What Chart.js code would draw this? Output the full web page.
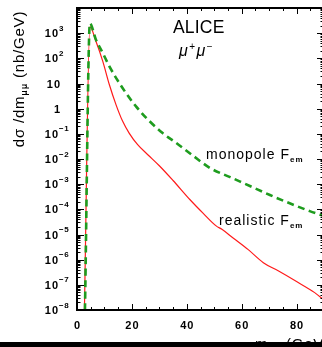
<!DOCTYPE html>
<html>
<head>
<meta charset="utf-8">
<script src="https://cdn.jsdelivr.net/npm/chart.js@4/dist/chart.umd.min.js"></script>
<style>
  html, body { margin: 0; padding: 0; background: #fff; overflow: hidden; }
  #wrap { position: relative; width: 330px; height: 347px; }
</style>
</head>
<body>
<div id="wrap"><canvas id="c"></canvas></div>
<script>
// Dimuon invariant mass (GeV) and cross section dσ/dm (nb/GeV)
const realisticMass = [2.7, 4.7, 6.9, 9.4, 11.8, 14.2, 16.6, 19.0, 22.1, 25.8, 30.0, 35.0, 41.2, 46.0, 50.7, 52.8, 57.0, 62.4, 67.9, 73.3, 80.0, 86.6, 90.0];
const realisticXsec = [1e-8, 1820, 479, 76, 8.9, 1.45, 0.32, 0.107, 0.037, 0.0148, 5.4e-3, 1.4e-3, 2.4e-4, 6.9e-5, 2.2e-5, 1.6e-5, 7.1e-6, 2.5e-6, 7.6e-7, 3.6e-7, 1.35e-7, 4.9e-8, 2.5e-8];

const monopoleMass = [2.9, 4.7, 6.9, 9.4, 11.8, 16.6, 21.5, 26.4, 31.2, 36.1, 42.3, 48.6, 55.8, 63.0, 70.3, 77.5, 84.8, 90.0];
const monopoleXsec = [1e-8, 2450, 550, 162, 48, 6.6, 1.23, 0.32, 0.107, 0.044, 0.0135, 4.3e-3, 1.9e-3, 8.5e-4, 3.7e-4, 1.74e-4, 8.5e-5, 5.4e-5];

// Axis ticks
const massTickValues = [0, 20, 40, 60, 80];
const massTickLabels = ['0', '20', '40', '60', '80'];
const xsecTickValues = [1e3, 1e2, 1e1, 1, 1e-1, 1e-2, 1e-3, 1e-4, 1e-5, 1e-6, 1e-7, 1e-8];
const xsecTickLabels = ['10^3', '10^2', '10', '1', '10^−1', '10^−2', '10^−3', '10^−4', '10^−5', '10^−6', '10^−7', '10^−8'];

const FONT = '"Liberation Sans", Arial, "Helvetica", sans-serif';

function toPoints(xs, ys) { return xs.map((x, i) => ({ x: x, y: ys[i] })); }

// Draws a sequence of text runs; each run: [text, font, dy]
function drawRuns(ctx, runs, x, y, spacing) {
  let cx = x;
  for (const [t, f, dy] of runs) {
    ctx.font = f;
    ctx.letterSpacing = (spacing || 0) + 'px';
    ctx.fillText(t, cx, y + (dy || 0));
    cx += ctx.measureText(t).width;
  }
  ctx.letterSpacing = '0px';
  return cx - x;
}
function runsWidth(ctx, runs, spacing) {
  let w = 0;
  for (const [t, f] of runs) {
    ctx.font = f;
    ctx.letterSpacing = (spacing || 0) + 'px';
    w += ctx.measureText(t).width;
  }
  ctx.letterSpacing = '0px';
  return w;
}

const framePlugin = {
  id: 'frame',
  afterDraw(chart) {
    const { ctx, chartArea: a, scales: { x, y } } = chart;
    ctx.save();
    ctx.fillStyle = '#000';
    ctx.strokeStyle = '#000';

    // frame
    ctx.lineWidth = 2;
    ctx.strokeRect(a.left, a.top, a.right - a.left, a.bottom - a.top);

    // inward ticks on the mass axis (bottom and top)
    ctx.lineWidth = 1;
    ctx.beginPath();
    for (let v = 0; v <= 90; v += 5) {
      const px = Math.round(x.getPixelForValue(v)) + 0.5;
      const len = v % 20 === 0 ? 6 : 3;
      ctx.moveTo(px, a.bottom); ctx.lineTo(px, a.bottom - len);
      ctx.moveTo(px, a.top); ctx.lineTo(px, a.top + len);
    }
    // inward decade and sub-decade ticks on the cross-section axis (left and right)
    for (let e = -8; e < 4; e++) {
      for (let m = 1; m < 10; m++) {
        const py = Math.round(y.getPixelForValue(m * Math.pow(10, e))) + 0.5;
        const len = m === 1 ? 7 : 3.5;
        ctx.moveTo(a.left, py); ctx.lineTo(a.left + len, py);
        ctx.moveTo(a.right, py); ctx.lineTo(a.right - len, py);
      }
    }
    ctx.stroke();

    // mass tick labels
    ctx.textBaseline = 'alphabetic';
    ctx.font = 'bold 11px ' + FONT;
    ctx.letterSpacing = '1px';
    ctx.textAlign = 'center';
    massTickValues.forEach((v, i) => {
      ctx.fillText(massTickLabels[i], x.getPixelForValue(v) + 0.5, 329);
    });
    ctx.letterSpacing = '0px';

    // cross-section tick labels, powers of ten with raised exponents
    ctx.textAlign = 'left';
    xsecTickValues.forEach((v, i) => {
      const py = y.getPixelForValue(v);
      const [base, exp] = xsecTickLabels[i].split('^');
      const runs = [[base, 'bold 11px ' + FONT, 0]];
      const bw = runsWidth(ctx, runs, 1);
      if (exp) {
        drawRuns(ctx, runs, 59 - bw, py + 4, 1);
        drawRuns(ctx, [[exp, 'bold 8px ' + FONT, 0]], 59, py - 2.5, 0.5);
      } else {
        drawRuns(ctx, runs, 61 - bw, py + 4, 1);
      }
    });

    // y axis title
    ctx.save();
    ctx.translate(24, 79);
    ctx.rotate(-Math.PI / 2);
    const yTitle = [['dσ /dm', '15px ' + FONT, 0], ['μμ', 'bold 9px ' + FONT, 3], [' (nb/GeV)', '15px ' + FONT, 0]];
    const tw = runsWidth(ctx, yTitle, 0.8);
    drawRuns(ctx, yTitle, -tw / 2, 0, 0.8);
    ctx.restore();

    // x axis title
    drawRuns(ctx, [['m', '15px ' + FONT, 0], ['μμ', 'bold 9px ' + FONT, 3], [' (GeV)', '15px ' + FONT, 0]], 255, 349, 0.8);

    // annotations
    drawRuns(ctx, [['ALICE', '17.5px ' + FONT, 0]], 173, 33, 0.2);
    drawRuns(ctx, [['μ', 'italic 16px ' + FONT, 0], ['+', '10px ' + FONT, -6], ['μ', 'italic 16px ' + FONT, 0], ['−', '10px ' + FONT, -6]], 179, 56, 1.5);
    drawRuns(ctx, [['monopole F', '14px ' + FONT, 0], ['em', 'bold 8px ' + FONT, 3]], 206, 159, 1);
    drawRuns(ctx, [['realistic F', '14px ' + FONT, 0], ['em', 'bold 8px ' + FONT, 3]], 219, 225, 1);

    // bottom bar
    ctx.fillRect(0, 342, chart.width, 5);
    ctx.restore();
  }
};

new Chart(document.getElementById('c'), {
  type: 'line',
  data: {
    datasets: [
      {
        label: 'monopole F_em',
        data: toPoints(monopoleMass, monopoleXsec),
        borderColor: '#1e9c1e',
        borderWidth: 2.6,
        borderDash: [7, 4.5],
        pointRadius: 0,
        fill: false,
        cubicInterpolationMode: 'monotone',
        order: 0
      },
      {
        label: 'realistic F_em',
        data: toPoints(realisticMass, realisticXsec),
        borderColor: '#ff1a1a',
        borderWidth: 1.2,
        pointRadius: 0,
        fill: false,
        cubicInterpolationMode: 'monotone',
        order: 1
      }
    ]
  },
  options: {
    responsive: true,
    maintainAspectRatio: false,
    animation: false,
    devicePixelRatio: 1,
    layout: { padding: { left: 77, right: 6, top: 8, bottom: 37 } },
    plugins: { legend: { display: false }, tooltip: { enabled: false } },
    scales: {
      x: { type: 'linear', min: 0, max: 90, display: false },
      y: { type: 'logarithmic', min: 1e-8, max: 1e4, display: false }
    }
  },
  plugins: [framePlugin]
});
</script>
</body>
</html>
